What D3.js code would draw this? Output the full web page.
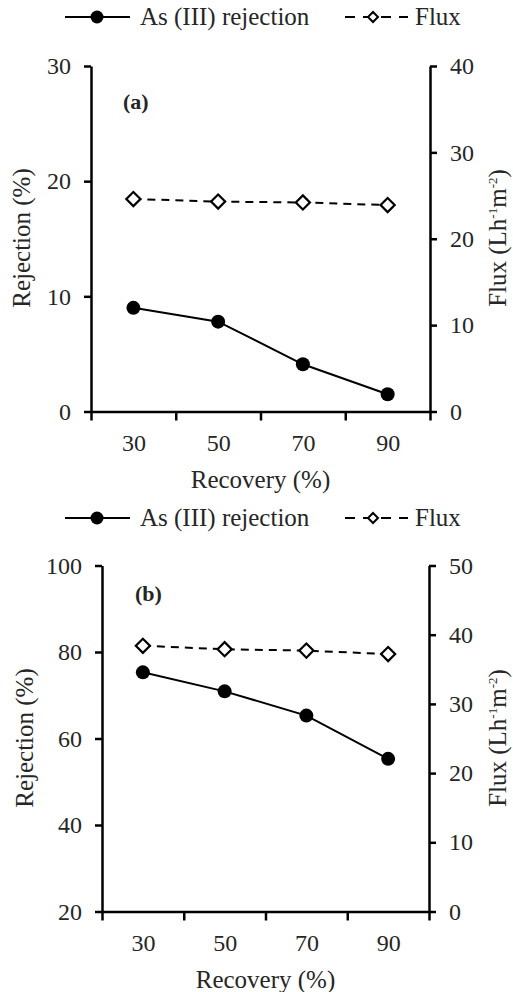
<!DOCTYPE html>
<html lang="en">
<head>
  <meta charset="UTF-8" />
  <title>As (III) rejection and flux vs recovery</title>
  <script src="https://d3js.org/d3.v7.min.js"></script>
  <style>
    body { margin: 0; background: #fff; }
    svg text { font-family: "Liberation Serif", "DejaVu Serif", serif !important; fill: #262626; }
  </style>
</head>
<body>
  <svg id="chart" width="513" height="992"></svg>

  <script>
    // data
    const recovery = [30, 50, 70, 90];
    const recoveryEdges = [20, 40, 60, 80, 100];

    const rejectionA = [9.0, 7.8, 4.1, 1.5];
    const fluxA = [24.6, 24.3, 24.2, 23.9];
    const rejTicksA = [0, 10, 20, 30];
    const fluxTicksA = [0, 10, 20, 30, 40];

    const rejectionB = [75.3, 70.9, 65.3, 55.3];
    const fluxB = [38.4, 37.9, 37.7, 37.2];
    const rejTicksB = [20, 40, 60, 80, 100];
    const fluxTicksB = [0, 10, 20, 30, 40, 50];

    const serif = "'Liberation Serif', 'DejaVu Serif', serif";
    const svg = d3.select("#chart");

    const diamond = d3.symbol().type(d3.symbolSquare);

    function drawLegend(y) {
      const g = svg.append("g").attr("transform", `translate(0,${y})`);
      g.append("line").attr("x1", 65).attr("x2", 130).attr("y1", 0).attr("y2", 0)
        .attr("stroke", "#000").attr("stroke-width", 2);
      g.append("circle").attr("cx", 97).attr("cy", 0).attr("r", 6.5).attr("fill", "#000");
      g.append("text").attr("x", 140).attr("y", 0).attr("dy", "0.33em")
        .style("font-family", serif).attr("font-size", 25).text("As (III) rejection");

      g.append("line").attr("x1", 345).attr("x2", 408).attr("y1", 0).attr("y2", 0)
        .attr("stroke", "#000").attr("stroke-width", 2).attr("stroke-dasharray", "10,8");
      g.append("path").attr("d", diamond.size(50)())
        .attr("transform", "translate(373,0) rotate(45)")
        .attr("fill", "#fff").attr("stroke", "#000").attr("stroke-width", 2);
      g.append("text").attr("x", 415).attr("y", 0).attr("dy", "0.33em")
        .style("font-family", serif).attr("font-size", 25).text("Flux");
    }

    function drawPanel(p) {
      const x = d3.scaleLinear().domain([20, 100]).range([p.left, p.right]);
      const yL = d3.scaleLinear().domain(d3.extent(p.rejTicks)).range([p.bottom, p.top]);
      const yR = d3.scaleLinear().domain(d3.extent(p.fluxTicks)).range([p.bottom, p.top]);

      const style = g => {
        g.attr("font-family", null);
        g.selectAll("path, line").attr("stroke", "#000").attr("stroke-width", 2.5);
        g.selectAll("text").attr("font-size", 24).attr("fill", "#333")
          .style("font-family", serif);
      };

      // x axis: tick marks at category edges, labels at category centres
      svg.append("g").attr("transform", `translate(0,${p.bottom})`)
        .call(d3.axisBottom(x).tickValues(recoveryEdges).tickFormat("").tickSize(9).tickSizeOuter(0))
        .call(style);
      svg.append("g").attr("transform", `translate(0,${p.bottom})`)
        .call(d3.axisBottom(x).tickValues(recovery).tickSize(0).tickPadding(22))
        .call(style)
        .call(g => g.select(".domain").remove());

      svg.append("g").attr("transform", `translate(${p.left},0)`)
        .call(d3.axisLeft(yL).tickValues(p.rejTicks).tickSize(7).tickPadding(13).tickSizeOuter(0))
        .call(style);
      svg.append("g").attr("transform", `translate(${p.right},0)`)
        .call(d3.axisRight(yR).tickValues(p.fluxTicks).tickSize(7).tickPadding(13).tickSizeOuter(0))
        .call(style);

      // axis titles
      svg.append("text").attr("x", (p.left + p.right) / 2).attr("y", p.bottom + 76)
        .style("font-family", serif)
        .attr("text-anchor", "middle").attr("font-size", 25).text("Recovery (%)");
      svg.append("text")
        .attr("transform", `translate(${p.leftTitleX},${p.titleY}) rotate(-90)`)
        .style("font-family", serif)
        .attr("text-anchor", "middle").attr("dy", "0.33em").attr("font-size", 25)
        .text("Rejection (%)");
      const ft = svg.append("text")
        .attr("transform", `translate(${p.rightTitleX},${p.titleY}) rotate(-90)`)
        .style("font-family", serif)
        .attr("text-anchor", "middle").attr("dy", 8).attr("font-size", 25);
      ft.append("tspan").text("Flux (Lh");
      ft.append("tspan").attr("font-size", 13).attr("dy", -9).text("-1");
      ft.append("tspan").attr("dy", 9).text("m");
      ft.append("tspan").attr("font-size", 13).attr("dy", -9).text("-2");
      ft.append("tspan").attr("dy", 9).text(")");

      // panel tag
      svg.append("text").attr("x", p.tagX).attr("y", p.tagY).attr("dy", "0.33em")
        .style("font-family", serif)
        .attr("font-size", 22).attr("font-weight", "bold").attr("fill", "#15152a")
        .text(p.tag);

      // flux series
      const fluxPts = recovery.map((r, i) => [x(r), yR(p.flux[i])]);
      svg.append("path").attr("d", d3.line()(fluxPts))
        .attr("fill", "none").attr("stroke", "#000").attr("stroke-width", 2)
        .attr("stroke-dasharray", "8,6");
      svg.append("g").selectAll("path").data(fluxPts).join("path")
        .attr("d", diamond.size(100)())
        .attr("transform", d => `translate(${d[0]},${d[1]}) rotate(45)`)
        .attr("fill", "#fff").attr("stroke", "#000").attr("stroke-width", 2.2);

      // rejection series
      const rejPts = recovery.map((r, i) => [x(r), yL(p.rejection[i])]);
      svg.append("path").attr("d", d3.line()(rejPts))
        .attr("fill", "none").attr("stroke", "#000").attr("stroke-width", 2);
      svg.append("g").selectAll("circle").data(rejPts).join("circle")
        .attr("cx", d => d[0]).attr("cy", d => d[1]).attr("r", 7).attr("fill", "#000");
    }

    drawLegend(17);
    drawPanel({
      left: 91, right: 430, top: 66, bottom: 411.5,
      rejection: rejectionA, flux: fluxA, rejTicks: rejTicksA, fluxTicks: fluxTicksA,
      leftTitleX: 22, rightTitleX: 498, titleY: 238, tag: "(a)", tagX: 123, tagY: 102
    });

    drawLegend(518);
    drawPanel({
      left: 102, right: 429, top: 565.5, bottom: 911.5,
      rejection: rejectionB, flux: fluxB, rejTicks: rejTicksB, fluxTicks: fluxTicksB,
      leftTitleX: 25, rightTitleX: 498, titleY: 738, tag: "(b)", tagX: 135, tagY: 594
    });
  </script>
</body>
</html>
